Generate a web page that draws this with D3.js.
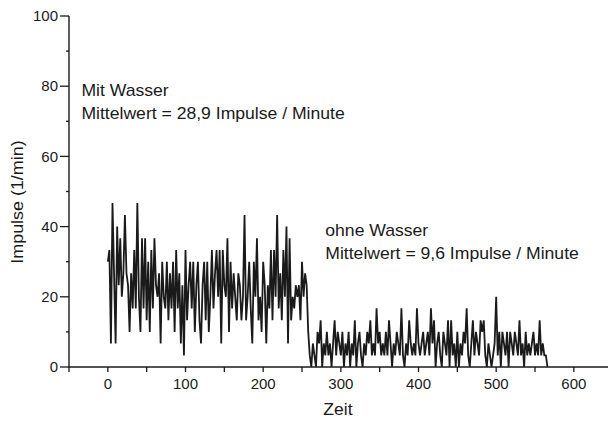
<!DOCTYPE html>
<html>
<head>
<meta charset="utf-8">
<script src="https://cdn.jsdelivr.net/npm/d3@7"></script>
<style>
  body { margin: 0; background: #fff; }
  svg text { font-family: "Liberation Sans", Arial, sans-serif; fill: #1a1a1a; }
</style>
</head>
<body>
<div id="chart"></div>
<script>
// Impulse pro Minute, Messung alle 2 Zeiteinheiten
var timeStep = 2;
var withWaterStart = 0;
var withWater = [
  30, 33.3, 6.7, 46.7, 26.7, 6.7, 40, 23.3, 36.7, 20, 26.7, 43.3, 26.7, 23.3, 10, 26.7,
  16.7, 33.3, 16.7, 46.7, 20, 10, 36.7, 16.7, 36.7, 13.3, 30, 10, 33.3, 16.7, 36.7, 23.3,
  20, 26.7, 6.7, 30, 20, 16.7, 30, 13.3, 26.7, 16.7, 30, 10, 33.3, 16.7, 26.7, 6.7,
  23.3, 3.3, 33.3, 13.3, 23.3, 30, 16.7, 30, 10, 23.3, 30, 13.3, 6.7, 23.3, 30, 13.3,
  30, 10, 20, 33.3, 16.7, 26.7, 33.3, 20, 33.3, 6.7, 33.3, 23.3, 20, 36.7, 10, 30,
  16.7, 26.7, 20, 13.3, 26.7, 23.3, 13.3, 20, 43.3, 13.3, 20, 30, 16.7, 6.7, 30, 20,
  36.7, 13.3, 20, 10, 30, 23.3, 6.7, 23.3, 16.7, 33.3, 13.3, 33.3, 20, 43.3, 16.7, 26.7,
  13.3, 33.3, 20, 40, 6.7, 36.7, 13.3, 20, 16.7, 23.3, 20, 23.3, 13.3, 30, 20, 26.7
];
var withoutWater = [
  23.3, 10, 3.3, 0, 6.7, 3.3, 0, 10, 6.7, 13.3, 0, 6.7, 3.3, 10, 3.3, 6.7,
  0, 6.7, 13.3, 3.3, 10, 6.7, 3.3, 10, 0, 6.7, 3.3, 10, 0, 6.7, 3.3, 13.3,
  0, 6.7, 10, 3.3, 0, 6.7, 3.3, 10, 6.7, 13.3, 3.3, 6.7, 3.3, 16.7, 6.7, 10,
  3.3, 6.7, 3.3, 10, 3.3, 13.3, 6.7, 0, 6.7, 3.3, 10, 6.7, 3.3, 16.7, 3.3, 0,
  6.7, 3.3, 13.3, 6.7, 3.3, 6.7, 3.3, 16.7, 6.7, 3.3, 6.7, 10, 3.3, 6.7, 10, 3.3,
  16.7, 6.7, 13.3, 0, 6.7, 10, 3.3, 0, 10, 6.7, 3.3, 13.3, 0, 13.3, 3.3, 6.7,
  0, 10, 0, 6.7, 3.3, 10, 6.7, 16.7, 3.3, 0, 6.7, 13.3, 3.3, 10, 6.7, 3.3,
  13.3, 10, 13.3, 3.3, 0, 6.7, 3.3, 0, 3.3, 6.7, 20, 3.3, 10, 0, 10, 6.7,
  3.3, 10, 0, 10, 6.7, 3.3, 10, 6.7, 3.3, 13.3, 3.3, 6.7, 0, 10, 3.3, 6.7,
  3.3, 6.7, 10, 3.3, 6.7, 3.3, 13.3, 3.3, 6.7, 3.3, 3.3, 0
];

var xTicks = [0, 100, 200, 300, 400, 500, 600];
var yTicks = [0, 20, 40, 60, 80, 100];

var labels = [
  { x: -34, y: 77.2, lines: ["Mit Wasser", "Mittelwert = 28,9 Impulse / Minute"] },
  { x: 280, y: 37.3, lines: ["ohne Wasser", "Mittelwert = 9,6 Impulse / Minute"] }
];

var W = 608, H = 421;
var margin = { top: 16, right: 0, bottom: 54, left: 69 };
var ink = "#1a1a1a";

var data = [];
withWater.forEach((v, i) => data.push({ t: withWaterStart + i * timeStep, v: v }));
var secondStart = withWaterStart + withWater.length * timeStep;
withoutWater.forEach((v, i) => data.push({ t: secondStart + i * timeStep, v: v }));

var svg = d3.select("#chart").append("svg").attr("width", W).attr("height", H);

var x = d3.scaleLinear().domain([-50, 650]).range([margin.left, 107.3 + 650 * 0.7775]);
var y = d3.scaleLinear().domain([0, 100]).range([H - margin.bottom, margin.top]);

// x axis
var xAxis = svg.append("g").attr("transform", `translate(0,${y(0)})`);
xAxis.append("line").attr("x1", x(-50)).attr("x2", W).attr("stroke", ink).attr("stroke-width", 1.4);
d3.range(-50, 651, 50).forEach(t => {
  xAxis.append("line").attr("x1", x(t)).attr("x2", x(t)).attr("y1", 0)
    .attr("y2", 5).attr("stroke", ink).attr("stroke-width", 1.3);
});
xAxis.selectAll("text.tick").data(xTicks).join("text").attr("class", "tick")
  .attr("x", d => x(d)).attr("y", 22).attr("text-anchor", "middle")
  .attr("font-size", 15).text(d => d);

// y axis
var yAxis = svg.append("g").attr("transform", `translate(${margin.left},0)`);
yAxis.append("line").attr("y1", y(0) + 0.7).attr("y2", y(100)).attr("stroke", ink).attr("stroke-width", 1.4);
d3.range(0, 101, 10).forEach(v => {
  yAxis.append("line").attr("y1", y(v)).attr("y2", y(v)).attr("x1", 0)
    .attr("x2", yTicks.indexOf(v) >= 0 ? -9 : -3).attr("stroke", ink).attr("stroke-width", 1.3);
});
yAxis.selectAll("text.tick").data(yTicks).join("text").attr("class", "tick")
  .attr("x", -11).attr("y", d => y(d)).attr("dy", "0.35em").attr("text-anchor", "end")
  .attr("font-size", 15).text(d => d);

// axis titles
svg.append("text").attr("transform", "translate(338,415) scale(1.1,1)").attr("text-anchor", "middle")
  .attr("font-size", 16).text("Zeit");
svg.append("text").attr("transform", `translate(23,${y(47)}) rotate(-90) scale(1.12,1)`)
  .attr("text-anchor", "middle").attr("font-size", 16).text("Impulse (1/min)");

// series line
var line = d3.line().x(d => x(d.t)).y(d => y(d.v));
svg.append("path").datum(data).attr("d", line).attr("fill", "none")
  .attr("stroke", ink).attr("stroke-width", 1.8).attr("stroke-linejoin", "miter");

// annotations
labels.forEach(l => {
  var t = svg.append("text").attr("transform", `translate(${x(l.x)},${y(l.y)}) scale(1.1,1)`)
    .attr("font-size", 16);
  l.lines.forEach((s, i) => t.append("tspan").attr("x", 0).attr("dy", i ? 23 : 0).text(s));
});
</script>
</body>
</html>
